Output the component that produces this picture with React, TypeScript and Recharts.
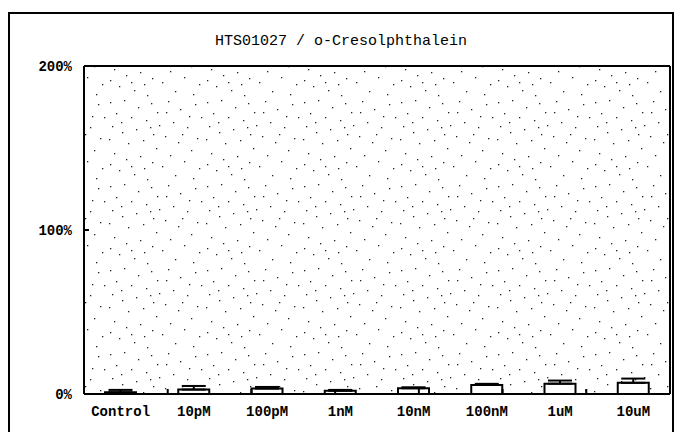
import React from "react";
import {
  BarChart,
  Bar,
  XAxis,
  YAxis,
  CartesianGrid,
  ErrorBar,
  ReferenceLine,
} from "recharts";

const categories = ["Control", "10pM", "100pM", "1nM", "10nM", "100nM", "1uM", "10uM"];
const meanValues = [1.0, 2.7, 3.3, 2.0, 3.5, 5.5, 6.3, 6.8];
const errorValues = [1.5, 2.2, 1.0, 0.5, 0.6, 0.7, 1.9, 2.6];
const yTicks = [0, 100, 200];
const boundaryTicks = [1, 2, 3, 4, 5, 6, 7];
const title = "HTS01027 / o-Cresolphthalein";

const data = categories.map((c, i) => ({
  name: c,
  value: meanValues[i],
  err: [0, errorValues[i]],
}));

const FONT = "'Liberation Mono', 'DejaVu Sans Mono', monospace";

const stippleDots: Array<[number, number]> = [
  [3, 4], [17, 2], [31, 9], [44, 5], [9, 15], [24, 19], [39, 22], [50, 14],
  [5, 28], [15, 34], [29, 31], [46, 36], [36, 42], [21, 45], [2, 41], [52, 27],
  [61, 3], [73, 11], [88, 6], [94, 19], [66, 24], [80, 29], [58, 38], [71, 44],
  [90, 40], [84, 52], [63, 57], [77, 63], [92, 70], [55, 68], [68, 77], [86, 80],
  [7, 55], [19, 61], [33, 58], [45, 64], [12, 72], [27, 76], [40, 81], [49, 50],
  [3, 66], [24, 68], [37, 70], [59, 14], [82, 18], [14, 24], [43, 29], [75, 36],
];

const noTick = () => <g />;

export default function App() {
  return (
    <div>
      <svg width={0} height={0} style={{ position: "absolute" }}>
        <defs>
          <pattern id="stip" width={97} height={84} patternUnits="userSpaceOnUse">
            <rect width={97} height={84} fill="#ffffff" />
            {stippleDots.map(([x, y], i) => (
              <rect key={i} x={x} y={y} width={1.3} height={1.3} fill="#222" />
            ))}
          </pattern>
        </defs>
      </svg>
      <div
        style={{
          position: "absolute",
          left: 8,
          top: 12,
          width: 666,
          height: 440,
          border: "2px solid #000",
          boxSizing: "border-box",
          background: "#fff",
        }}
      >
        <div
          style={{
            position: "absolute",
            left: 0,
            top: 19,
            width: "100%",
            textAlign: "center",
            fontFamily: FONT,
            fontSize: 15,
            color: "#000",
            lineHeight: "18px",
          }}
        >
          {title}
        </div>
        <BarChart
          width={662}
          height={420}
          data={data}
          margin={{ top: 51, right: 1, bottom: 10, left: 0 }}
        >
          <CartesianGrid
            xAxisId="cat"
            yAxisId="y"
            horizontal={false}
            vertical={false}
            fill="url(#stip)"
          />
          <XAxis
            xAxisId="bnd"
            type="number"
            domain={[0, 8]}
            ticks={boundaryTicks}
            mirror
            height={1}
            tickSize={5}
            tick={noTick}
            axisLine={false}
            tickLine={{ stroke: "#000", strokeWidth: 2 }}
            allowDataOverflow
          />
          <XAxis
            xAxisId="cat"
            dataKey="name"
            type="category"
            height={30}
            tickSize={0}
            tickMargin={12}
            tickLine={false}
            axisLine={{ stroke: "#000", strokeWidth: 2 }}
            interval={0}
            tick={{ fill: "#000", fontFamily: FONT, fontSize: 14, fontWeight: "bold" }}
          />
          <XAxis
            xAxisId="top"
            orientation="top"
            type="number"
            domain={[0, 8]}
            height={1}
            tick={false}
            tickLine={false}
            axisLine={{ stroke: "#000", strokeWidth: 2 }}
            allowDataOverflow
          />
          <YAxis
            yAxisId="y"
            domain={[0, 200]}
            ticks={yTicks}
            width={74}
            tickSize={-5}
            tickMargin={17}
            tickFormatter={(v: number) => `${v}%`}
            axisLine={{ stroke: "#000", strokeWidth: 2 }}
            tickLine={{ stroke: "#000", strokeWidth: 2 }}
            tick={{ fill: "#000", fontFamily: FONT, fontSize: 14, fontWeight: "bold" }}
            allowDataOverflow
          />
          <YAxis
            yAxisId="right"
            orientation="right"
            domain={[0, 200]}
            width={1}
            tick={false}
            tickLine={false}
            axisLine={{ stroke: "#000", strokeWidth: 2 }}
            allowDataOverflow
          />
          <ReferenceLine
            xAxisId="cat"
            yAxisId="y"
            y={200}
            stroke="#000"
            strokeWidth={2}
            ifOverflow="visible"
          />
          <Bar
            xAxisId="cat"
            yAxisId="y"
            dataKey="value"
            barSize={31}
            fill="#fff"
            stroke="#000"
            strokeWidth={2}
            isAnimationActive={false}
          >
            <ErrorBar dataKey="err" width={12} stroke="#000" strokeWidth={2} direction="y" />
          </Bar>
        </BarChart>
      </div>
    </div>
  );
}
